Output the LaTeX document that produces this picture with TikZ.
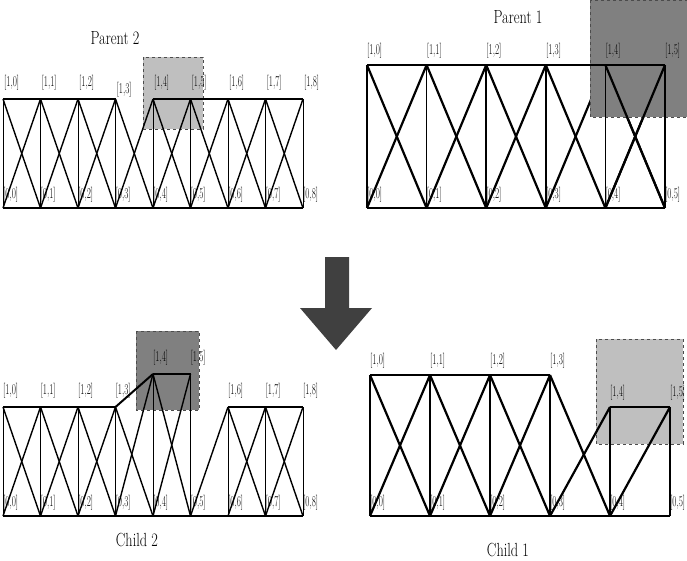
\documentclass[tikz,border=0pt]{standalone}
\usetikzlibrary{calc}
\newcommand\trl[1]{\scalebox{0.6}[1]{[#1]}}
\newcommand\ttl[1]{\scalebox{0.75}[1]{#1}}
\tikzset{
  lbl/.style={inner sep=0pt,font=\fontsize{15}{15}\selectfont,anchor=south west},
  ttl/.style={inner sep=0pt,font=\fontsize{19}{19}\selectfont},
  chord/.style={line width=2.8pt},
  thindiag/.style={line width=1.4pt},
  thinvert/.style={line width=0.9pt},
  thickdiag/.style={line width=2.2pt},
  thickvert/.style={line width=1.6pt},
  lightbox/.style={fill=black!25,draw=black!70,dashed,line width=0.6pt},
  darkbox/.style={fill=black!50,draw=black!70,dashed,line width=0.6pt}
}
\begin{document}
\begin{tikzpicture}[x=1pt,y=-1pt]
\useasboundingbox (0,0) rectangle (687,561);
% ---------- Parent 2 ----------
\draw[lightbox] (143,57) rectangle (203,129);
\foreach \i in {0,...,8}{
  \coordinate (pa\i) at ({3+37.5*\i},99);
  \coordinate (pb\i) at ({3+37.5*\i},208);
  \draw[thinvert] (pa\i) -- (pb\i);
}
\foreach \i [evaluate=\i as \j using int(\i+1)] in {0,...,7}{
  \draw[thindiag] (pa\i) -- (pb\j);
  \draw[thindiag] (pb\i) -- (pa\j);
}
\draw[chord] (pa0) -- (pa3);
\draw[chord] (pa4) -- (pa8);
\draw[chord] (pb0) -- (pb8);
\foreach \i in {0,1,2,4,5,6,7,8}{
  \node[lbl] at ($(pa\i)+(1,-9)$) {\trl{1,\i}};
}
\node[lbl] at ($(pa3)+(1,-2)$) {\trl{1,3}};
\foreach \i in {0,...,8}{
  \node[lbl] at ($(pb\i)+(0,-6)$) {\trl{0,\i}};
}
\node[ttl] (t2) at (115,38) {\ttl{Parent 2}};
% ---------- Parent 1 ----------
\foreach \i in {0,...,5}{
  \coordinate (qa\i) at ({367+59.6*\i},65);
  \coordinate (qb\i) at ({367+59.6*\i},208);
}
\foreach \i in {0,...,5}{ \draw[thickvert] (qa\i) -- (qb\i); }
\foreach \i [evaluate=\i as \j using int(\i+1)] in {0,...,4}{
  \draw[thickdiag] (qa\i) -- (qb\j);
  \draw[thickdiag] (qb\i) -- (qa\j);
}
\draw[chord] (qa0) -- (qa5);
\draw[chord] (qb0) -- (qb5);
\draw[darkbox] (590,0) rectangle (687,117);
\draw[thickdiag] (qa4) -- (qb5);
\draw[thickdiag] (qb4) -- (qa5);
\draw[thickvert] (qa4) -- (qb4);
\draw[thickvert] (qa5) -- (qb5);
\draw[chord] (qa3) -- (qa5);
\foreach \i in {0,...,5}{
  \node[lbl] at ($(qa\i)+(0,-7)$) {\trl{1,\i}};
  \node[lbl] at ($(qb\i)+(0,-6)$) {\trl{0,\i}};
}
\node[ttl] (t1) at (518,17) {\ttl{Parent 1}};
% ---------- Arrow ----------
\fill[black!75] (325,257) -- (349,257) -- (349,308) -- (372,308) -- (336,350) -- (300,308) -- (325,308) -- cycle;
% ---------- Child 2 ----------
\draw[darkbox] (136,331) rectangle (199,410);
\foreach \i in {0,...,8}{
  \coordinate (ca\i) at ({3+37.5*\i},407);
  \coordinate (cb\i) at ({3+37.5*\i},516);
}
\coordinate (ca4) at (153,374);
\coordinate (ca5) at (190.5,374);
\foreach \i in {0,...,8}{ \draw[thinvert] (ca\i) -- (cb\i); }
\foreach \i [evaluate=\i as \j using int(\i+1)] in {0,1,2,3,4,6,7}{
  \draw[thindiag] (ca\i) -- (cb\j);
  \draw[thindiag] (cb\i) -- (ca\j);
}
\draw[thindiag] (cb5) -- (ca6);
\draw[chord] (ca0) -- (ca3);
\draw[line width=2pt] (ca3) -- (ca4);
\draw[chord] (ca4) -- (ca5);
\draw[chord] (ca6) -- (ca8);
\draw[chord] (cb0) -- (cb8);
\foreach \i in {0,...,8}{
  \node[lbl] at ($(ca\i)+(0,-9)$) {\trl{1,\i}};
  \node[lbl] at ($(cb\i)+(0,-6)$) {\trl{0,\i}};
}
\node[ttl] (c2) at (137,540) {\ttl{Child 2}};
% ---------- Child 1 ----------
\draw[lightbox] (596,339) rectangle (683,444);
\foreach \i in {0,...,5}{
  \coordinate (da\i) at ({370+60*\i},375);
  \coordinate (db\i) at ({370+60*\i},516);
}
\coordinate (da4) at (610,407);
\coordinate (da5) at (670,407);
\foreach \i in {0,...,5}{ \draw[thickvert] (da\i) -- (db\i); }
\foreach \i [evaluate=\i as \j using int(\i+1)] in {0,1,2,3}{
  \draw[thickdiag] (da\i) -- (db\j);
  \draw[thickdiag] (db\i) -- (da\j);
}
\draw[thickdiag] (db4) -- (da5);
\draw[chord] (da0) -- (da3);
\draw[chord] (da4) -- (da5);
\draw[chord] (db0) -- (db5);
\foreach \i in {0,...,5}{
  \node[lbl] at ($(da\i)+(0,-7)$) {\trl{1,\i}};
  \node[lbl] at ($(db\i)+(0,-6)$) {\trl{0,\i}};
}
\node[ttl] (c1) at (508,550) {\ttl{Child 1}};
\end{tikzpicture}
\end{document}
